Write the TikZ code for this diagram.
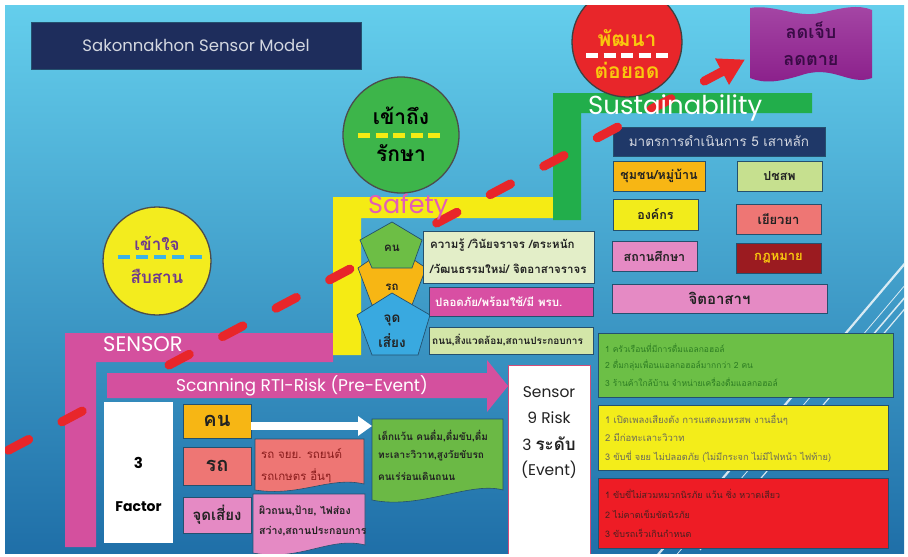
\documentclass[tikz,border=0pt]{standalone}
\usepackage{fontspec}
\setmainfont{Poppins}
\newfontfamily\thai[Script=Thai]{Loma}
\usetikzlibrary{arrows.meta}
\definecolor{bgtop}{HTML}{64CEEC}
\definecolor{bgmid}{HTML}{33A3D3}
\definecolor{bgbot}{HTML}{1F6FA8}
\definecolor{navy}{HTML}{1E2D5C}
\definecolor{navyb}{HTML}{1F3868}
\definecolor{spink}{HTML}{D4509E}
\definecolor{syellow}{HTML}{F5EB14}
\definecolor{sgreen}{HTML}{22AE4B}
\definecolor{dred}{HTML}{E8262A}
\definecolor{cgreen}{HTML}{3DB54A}
\definecolor{cyellow}{HTML}{F3EC1E}
\definecolor{orangeb}{HTML}{F7B614}
\definecolor{lgreen}{HTML}{C6E08F}
\definecolor{yellowb}{HTML}{F2EC1B}
\definecolor{salmon}{HTML}{EE7674}
\definecolor{pinkb}{HTML}{E58AC4}
\definecolor{lawred}{HTML}{9B1B20}
\definecolor{cream}{HTML}{E3EEC8}
\definecolor{pinkbar}{HTML}{D84FA3}
\definecolor{greenbar}{HTML}{D3E6A8}
\definecolor{pgreen}{HTML}{6DBE45}
\definecolor{pblue}{HTML}{39A9E0}
\definecolor{dgreen}{HTML}{6BB945}
\definecolor{rgreen}{HTML}{6CBF46}
\definecolor{ryellow}{HTML}{F3ED1A}
\definecolor{rred}{HTML}{EE1C25}
\definecolor{purp}{HTML}{A547A5}
\definecolor{purpd}{HTML}{8A1E8A}
\definecolor{edge}{HTML}{24506E}
\definecolor{txt}{HTML}{222222}
\definecolor{goldt}{HTML}{F9C80E}
\definecolor{ltgray}{HTML}{D3D7E0}
\definecolor{purtxt}{HTML}{6E3A8E}
\definecolor{ddash}{HTML}{3BB3E6}
\definecolor{bantxt}{HTML}{3A0B46}
\definecolor{sfpink}{HTML}{E35DB5}
\definecolor{rtxt}{HTML}{8A1C1C}
\definecolor{gtxt}{HTML}{2D7D23}
\definecolor{ytxt}{HTML}{6B6B5A}
\definecolor{redtxt}{HTML}{4A2020}
\begin{document}
\begin{tikzpicture}[x=1pt,y=-1pt,
  box/.style={draw=edge, line width=0.7pt, inner sep=0pt, align=center, text=txt},
  th/.style={font=\thai\bfseries\fontsize{#1}{#1}\selectfont},
  thr/.style={font=\thai\fontsize{#1}{#1}\selectfont},
  lt/.style={font=\fontsize{#1}{#1}\selectfont},
  deco/.style={white, opacity=0.8},
  cdash/.style={line width=5pt, dash pattern=on 12pt off 5.5pt},
  lbl/.style={inner sep=0pt},
]
\useasboundingbox (0,0) rectangle (908,557);
\fill[white] (0,0) rectangle (908,557);
\begin{scope}
\clip (5,5) rectangle (904,553);
\shade[top color=bgtop, middle color=bgmid, bottom color=bgbot] (5,5) rectangle (904,553);
% decorative lines
\draw[deco, line width=2.2pt] (935,228) -- (600,623);
\draw[deco, line width=1.2pt] (970,232) -- (700,550);
\draw[deco, line width=0.8pt] (950,232) -- (640,598);
\draw[deco, line width=1.5pt] (935,262) -- (860,350);
% frames
\fill[spink] (65,333) -- (333,333) -- (333,362) -- (96,362) -- (96,547) -- (65,547) -- cycle;
\fill[syellow] (333,197) -- (553,197) -- (553,218) -- (361,218) -- (361,355) -- (333,355) -- cycle;
\fill[sgreen] (553,93) -- (812,93) -- (812,113) -- (581,113) -- (581,220) -- (553,220) -- cycle;
% title
\node[box, fill=navy, minimum width=330pt, minimum height=47pt, text=ltgray, lt=16.5] (title) at (196,45.5) {Sakonnakhon Sensor Model};
% red circle
\node[circle, fill=dred, draw=black!75, line width=1.3pt, minimum size=110pt, inner sep=0pt] (dev) at (627,42) {};
\node[lbl, th=21, text=goldt] (devA) at (627,38) {พัฒนา};
\coordinate (devL) at (586,55);
\coordinate (devR) at (668,55);
\draw[white, cdash] (devL) -- (devR);
\node[lbl, th=21, text=goldt] (devB) at (627,70) {ต่อยอด};
% purple banner
\shade[top color=purp, bottom color=purpd] (750,8) .. controls (775,4) and (795,18) .. (820,13) .. controls (842,8) and (858,4) .. (872,10) -- (872,78) .. controls (850,86) and (835,66) .. (805,74) .. controls (780,82) and (765,84) .. (750,78) -- cycle;
\node[lbl, th=18, text=bantxt] (banA) at (811,30) {ลดเจ็บ};
\node[lbl, th=18, text=bantxt] (banB) at (811,60) {ลดตาย};
% green circle
\node[circle, fill=cgreen, draw=black!70, line width=1.3pt, minimum size=116pt, inner sep=0pt] (acc) at (401,135) {};
\node[lbl, th=21, text=black] (accA) at (401,116) {เข้าถึง};
\coordinate (accL) at (358,135);
\coordinate (accR) at (442,135);
\draw[syellow, cdash] (accL) -- (accR);
\node[lbl, th=21, text=black] (accB) at (401,153) {รักษา};
% yellow circle
\node[circle, fill=cyellow, draw=black!70, line width=1.3pt, minimum size=108pt, inner sep=0pt] (und) at (157,261) {};
\node[lbl, th=17, text=purtxt] (undA) at (157,243) {เข้าใจ};
\coordinate (undL) at (118,257);
\coordinate (undR) at (202,257);
\draw[ddash, line width=4.5pt, dash pattern=on 12pt off 6pt] (undL) -- (undR);
\node[lbl, th=17, text=purtxt] (undB) at (157,276) {สืบสาน};
% five pillars header
\node[box, fill=navyb, minimum width=212pt, minimum height=29pt, text=ltgray, thr=13.5] (pillars) at (719,141.5) {มาตรการดำเนินการ 5 เสาหลัก};
% red dashed arrow
\coordinate (ds) at (5,452);
\coordinate (de) at (745,59.5);
\draw[dred, line width=9pt, line cap=round, dash pattern=on 23pt off 37.6pt, dash phase=56.8pt, -{Triangle[length=26pt,width=28pt]}] (ds) -- (de);
% pillar boxes
\node[box, fill=orangeb, minimum width=92pt, minimum height=30pt, th=12.5] (p1) at (659,176) {ชุมชน/หมู่บ้าน};
\node[box, fill=lgreen, minimum width=85pt, minimum height=30pt, th=12.5] (p2) at (779.5,176) {ปชสพ};
\node[box, fill=yellowb, minimum width=85pt, minimum height=31pt, th=12.5] (p3) at (655.5,214.5) {องค์กร};
\node[box, fill=salmon, minimum width=85pt, minimum height=30pt, th=13] (p4) at (778.5,219) {เยียวยา};
\node[box, fill=pinkb, minimum width=85pt, minimum height=30pt, th=12.5] (p5) at (654.5,256) {สถานศึกษา};
\node[box, fill=lawred, minimum width=85pt, minimum height=30pt, th=13, text=goldt] (p6) at (778.5,258) {กฎหมาย};
\node[box, fill=pinkb, minimum width=215pt, minimum height=29pt, th=15] (p7) at (719.5,298.5) {จิตอาสาฯ};
% pentagons
\filldraw[fill=orangeb, draw=edge, line width=0.7pt] (392,245) -- (426,268) -- (412,305) -- (372,305) -- (358,268) -- cycle;
\filldraw[fill=pgreen, draw=edge, line width=0.7pt] (392,222) -- (422,240) -- (412,268) -- (372,268) -- (360,240) -- cycle;
\filldraw[fill=pblue, draw=edge, line width=0.7pt] (392,293) -- (430,315) -- (418,355) -- (372,355) -- (357,315) -- cycle;
\node[lbl, th=11.5, text=txt] (pgA) at (392,248) {คน};
\node[lbl, th=11.5, text=txt] (poA) at (392,287) {รถ};
\node[lbl, th=13.5, text=txt] (pbA) at (392,320) {จุด};
\node[lbl, th=13.5, text=txt] (pbB) at (392,341) {เสี่ยง};
% safety boxes
\node[box, fill=cream, minimum width=171pt, minimum height=52pt] (know) at (508.5,257) {};
\node[lbl, th=11.5, text=txt, anchor=west] (knowA) at (430,245) {ความรู้ /วินัยจราจร /ตระหนัก};
\node[lbl, th=11.5, text=txt, anchor=west] (knowB) at (430,269) {/วัฒนธรรมใหม่/ จิตอาสาจราจร};
\node[box, fill=pinkbar, minimum width=164pt, minimum height=29pt] (safe) at (511,301.5) {};
\node[lbl, th=11.5, text=white!92!pink, anchor=west] (safeA) at (435,301.5) {ปลอดภัย/พร้อมใช้/มี พรบ.};
\node[box, fill=greenbar, minimum width=164pt, minimum height=27pt] (road) at (511,340.5) {};
\node[lbl, th=10, text=txt, anchor=west] (roadA) at (432,340.5) {ถนน,สิ่งแวดล้อม,สถานประกอบการ};
% sensor box
\node[fill=white, draw=purple!70, line width=0.8pt, minimum width=82pt, minimum height=200pt, anchor=north west, inner sep=0pt] (sensor) at (508,365) {};
\node[lbl, lt=15.5, text=txt] (senA) at (549,392) {Sensor};
\node[lbl, lt=15.5, text=txt] (senB) at (549,418) {9 Risk};
\node[lbl, lt=15.5, text=txt] (senC) at (549,444) {3 {\thai\bfseries\fontsize{17}{17}\selectfont ระดับ}};
\node[lbl, lt=15.5, text=txt] (senD) at (549,470) {(Event)};
% scanning arrow
\fill[spink] (107,373) -- (487,373) -- (487,360) -- (sensor.west |- 0,386) -- (487,412) -- (487,398) -- (107,398) -- cycle;
\node[lbl, anchor=base, text=white, lt=17] (scan) at (302,391) {Scanning RTI-Risk (Pre-Event)};
% factor
\node[fill=white, minimum width=69pt, minimum height=141pt, inner sep=0pt] (factor) at (138.5,472.5) {};
\node[lbl, font=\bfseries\fontsize{15}{15}\selectfont] (fA) at (138.5,463) {3};
\node[lbl, font=\bfseries\fontsize{14}{14}\selectfont] (fB) at (138.5,507) {Factor};
\node[box, fill=orangeb, minimum width=68pt, minimum height=34pt, th=20] (kn) at (217,421) {คน};
\node[box, fill=salmon, minimum width=68pt, minimum height=38pt, th=20] (rt) at (217,466) {รถ};
\node[box, fill=pinkb, minimum width=68pt, minimum height=36pt, th=15] (jud) at (217,515) {จุดเสี่ยง};
% descriptions
\filldraw[fill=salmon, draw=edge, line width=0.6pt] (255,439) -- (364,439) -- (364,484) .. controls (330,476) and (300,497) .. (255,490) -- cycle;
\node[lbl, thr=11.5, text=rtxt, anchor=west] (rtA) at (261,453) {รถ จยย. รถยนต์};
\node[lbl, thr=11.5, text=rtxt, anchor=west] (rtB) at (261,476) {รถเกษตร อื่นๆ};
\filldraw[fill=pinkb, draw=edge, line width=0.6pt] (253,494) -- (365,494) -- (365,545) .. controls (330,536) and (300,562) .. (253,553) -- cycle;
\node[lbl, th=10.5, text=txt, anchor=west] (jdA) at (259,511) {ผิวถนน,ป้าย, ไฟส่อง};
\node[lbl, th=10.5, text=txt, anchor=west] (jdB) at (259,531) {สว่าง,สถานประกอบการ};
\filldraw[fill=dgreen, draw=edge, line width=0.6pt] (372,419) -- (503,419) -- (503,490) .. controls (470,481) and (420,510) .. (372,500) -- cycle;
\coordinate (gdW) at (372,426);
\node[lbl, th=10, text=txt, anchor=west] (gdA) at (378,436) {เด็กแว้น คนดื่ม,ดื่มขับ,ดื่ม};
\node[lbl, th=10, text=txt, anchor=west] (gdB) at (378,456) {ทะเลาะวิวาท,สูงวัยขับรถ};
\node[lbl, th=10, text=txt, anchor=west] (gdC) at (378,476) {คนเร่ร่อนเดินถนน};
\draw[white, line width=8pt, -{Triangle[length=14pt,width=19pt]}] (kn.east |- gdW) -- (gdW);
% right boxes
\node[box, fill=rgreen, minimum width=295pt, minimum height=64pt] (rg) at (745.5,365) {};
\node[lbl, thr=8.5, text=gtxt, anchor=west] (rgA) at (605,348) {1 ครัวเรือนที่มีการดื่มแอลกอฮอล์};
\node[lbl, thr=8.5, text=gtxt, anchor=west] (rgB) at (605,365) {2 ดื่มกลุ่มเพื่อนแอลกอฮอล์มากกว่า 2 คน};
\node[lbl, thr=8.5, text=gtxt, anchor=west] (rgC) at (605,382) {3 ร้านค้าใกล้บ้าน จำหน่ายเครื่องดื่มแอลกอฮอล์};
\node[box, fill=ryellow, minimum width=290pt, minimum height=65pt] (ry) at (743,437.5) {};
\node[lbl, thr=9.5, text=ytxt, anchor=west] (ryA) at (605,419) {1 เปิดเพลงเสียงดัง การแสดงมหรสพ งานอื่นๆ};
\node[lbl, thr=9.5, text=ytxt, anchor=west] (ryB) at (605,437) {2 มีก่อทะเลาะวิวาท};
\node[lbl, thr=9.2, text=ytxt, anchor=west] (ryC) at (605,457) {3 ขับขี่ จยย ไม่ปลอดภัย (ไม่มีกระจก ไม่มีไฟหน้า ไฟท้าย)};
\node[box, fill=rred, minimum width=290pt, minimum height=70pt] (rr) at (743,513) {};
\node[lbl, thr=9, text=redtxt, anchor=west] (rrA) at (605,494) {1 ขับขี่ไม่สวมหมวกนิรภัย แว้น ซิ่ง หวาดเสียว};
\node[lbl, thr=9, text=redtxt, anchor=west] (rrB) at (605,514) {2 ไม่คาดเข็มขัดนิรภัย};
\node[lbl, thr=9, text=redtxt, anchor=west] (rrC) at (605,533) {3 ขับรถเร็วเกินกำหนด};
% frame titles
\node[lbl, anchor=base west, text=white, lt=26] (sus) at (588,114) {Sustainability};
\node[lbl, anchor=base west, text=sfpink, lt=25.5] (saf) at (368,213) {Safety};
\node[lbl, anchor=base west, text=white, lt=21] (sen) at (103,351) {SENSOR};
\end{scope}
\end{tikzpicture}
\end{document}
